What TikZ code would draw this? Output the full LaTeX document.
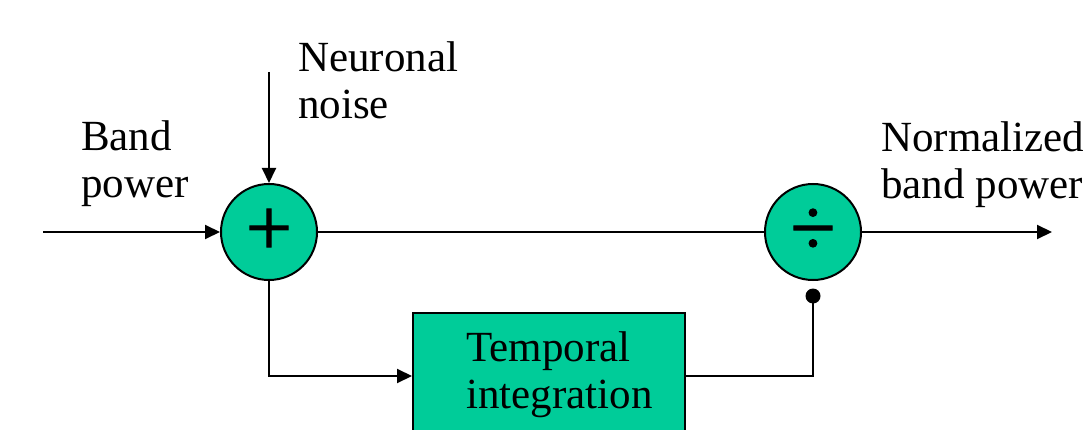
\documentclass[tikz,border=0pt]{standalone}
\usepackage{fontspec}
\setmainfont{Liberation Serif}
\newfontfamily\opsymfont[FakeBold=1.2]{Liberation Serif}
\usetikzlibrary{arrows.meta}
\definecolor{opfill}{HTML}{00CC99}
\tikzset{
  wire/.style={line width=2pt, draw=black},
  flow/.style={wire, -{Triangle[length=15pt,width=14pt]}},
  opcircle/.style={circle, draw=black, line width=2pt, fill=opfill,
    minimum size=96pt, inner sep=0pt},
  label/.style={font=\fontsize{43}{47}\selectfont, align=left, inner sep=0pt},
  sym/.style={font=\opsymfont\fontsize{82}{82}\selectfont, inner sep=0pt},
}
\begin{document}
\begin{tikzpicture}[x=1pt, y=-1pt]
  \useasboundingbox (0,0) rectangle (1083,430);
  \clip (0,0) rectangle (1083,430);

  % summing and dividing junctions
  \node[opcircle] (sum) at (269,232) {};
  \node[sym] at (sum.center) {+};
  \node[opcircle] (div) at (813,232) {};
  \node[sym] at (div.center) {÷};

  % integrator block (runs past the lower edge)
  \node[draw=black, line width=2pt, fill=opfill, anchor=north west,
        minimum width=272pt, minimum height=140pt, inner sep=0pt] (integ) at (412,312) {};
  \node[label, anchor=base west] at (466,408) {Temporal\\integration};

  % free ends
  \coordinate (in) at (43,232);
  \coordinate (out) at (1052,232);
  \coordinate (noise) at (269,72);
  \coordinate (tap) at (813,296);

  % labels
  \node[label, anchor=base west] at (81,198) {Band\\power};
  \node[label, anchor=base west] at (298,119) {Neuronal\\noise};
  \node[label, anchor=base west] at (881,199) {Normalized\\band power};

  % connectors
  \draw[flow] (in) -- (sum);
  \draw[flow] (noise) -- (sum);
  \draw[wire] (sum) -- (div);
  \draw[flow] (div) -- (out);
  \draw[flow] (sum.south) |- (integ.west |- 0,376);
  \draw[wire] (integ.east |- 0,376) -| (tap);
  \fill (tap) circle (7.5pt);
\end{tikzpicture}
\end{document}
